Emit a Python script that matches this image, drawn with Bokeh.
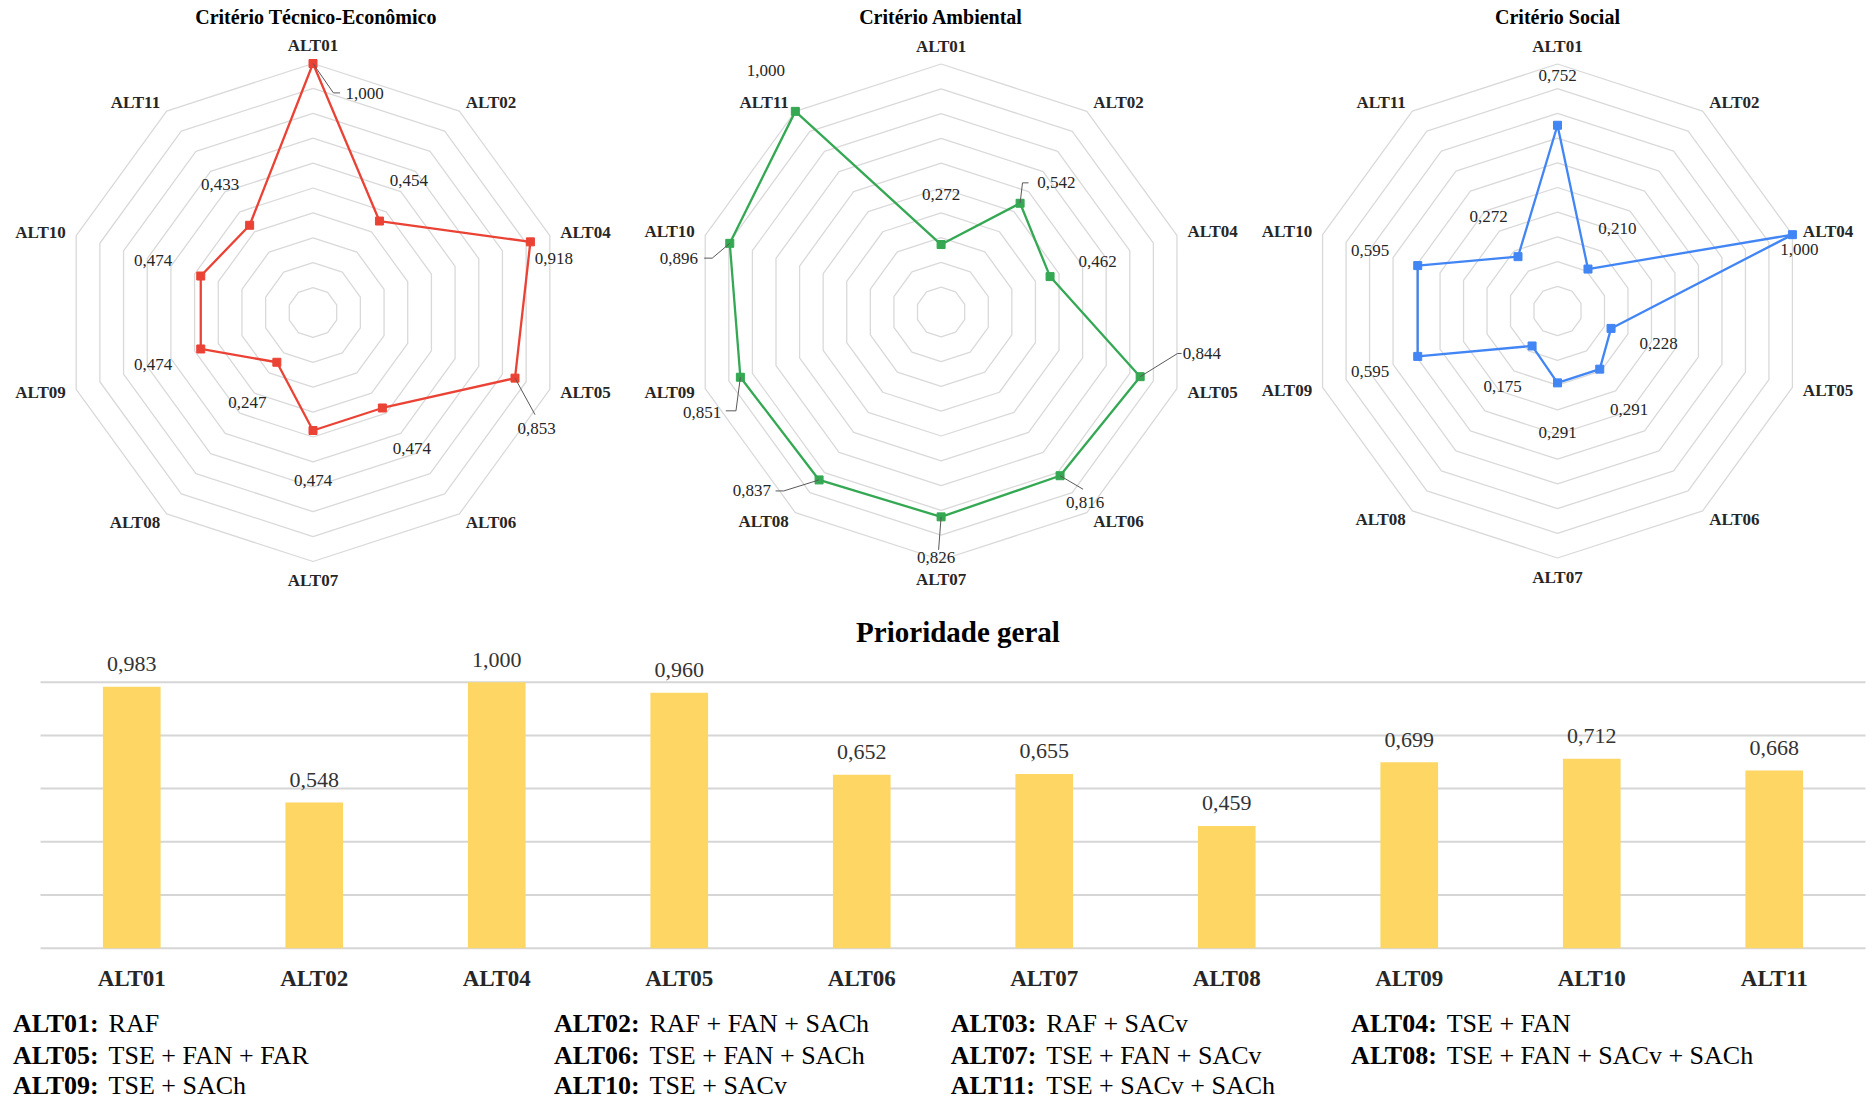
import numpy as np
from bokeh.plotting import figure
from bokeh.layouts import column, row
from bokeh.models import Range1d
from bokeh.embed import file_html
from bokeh.resources import INLINE
from bokeh.core.properties import value

# ---------------- data ----------------
alternatives = ["ALT01", "ALT02", "ALT04", "ALT05", "ALT06",
                "ALT07", "ALT08", "ALT09", "ALT10", "ALT11"]
tecnico = [1.000, 0.454, 0.918, 0.853, 0.474, 0.474, 0.247, 0.474, 0.474, 0.433]
ambiental = [0.272, 0.542, 0.462, 0.844, 0.816, 0.826, 0.837, 0.851, 0.896, 1.000]
social = [0.752, 0.210, 1.000, 0.228, 0.291, 0.291, 0.175, 0.595, 0.595, 0.272]
prioridade = [0.983, 0.548, 1.000, 0.960, 0.652, 0.655, 0.459, 0.699, 0.712, 0.668]
ring_levels = [0.1, 0.2, 0.3, 0.4, 0.5, 0.6, 0.7, 0.8, 0.9, 1.0]
bar_grid_ticks = [0.0, 0.2, 0.4, 0.6, 0.8, 1.0]
legend_codes = ["ALT01", "ALT02", "ALT03", "ALT04", "ALT05", "ALT06",
                "ALT07", "ALT08", "ALT09", "ALT10", "ALT11"]
legend_desc = ["RAF", "RAF + FAN + SACh", "RAF + SACv", "TSE + FAN",
               "TSE + FAN + FAR", "TSE + FAN + SACh", "TSE + FAN + SACv",
               "TSE + FAN + SACv + SACh", "TSE + SACh", "TSE + SACv",
               "TSE + SACv + SACh"]

# ---------------- styles / placement ----------------
SERIF = value("Liberation Serif")
RED, GREEN, BLUE = "#EA4335", "#34A853", "#4285F4"
BAR_COLOR = "#FDD663"
RING_COLOR = "#D9D9D9"
TXT = "#262626"
PAGE_W = 1873
H_RADAR = 605

# moved data labels (pixel offsets from the point, +y down) and their leader lines
custom1 = {0: ((51.7, 29.7), [(0, 0), (20.4, 29.4), (27, 29.4)]),
           2: ((23.5, 16.8), None),
           3: ((21.6, 49.9), [(0, 0), (20, 36.5)])}
custom2 = {1: ((36.3, -20.4), [(0, 0), (2.4, -20.4), (8.4, -20.4)]),
           3: ((61.7, -23.2), [(0, 0), (37.4, -23.2), (41.4, -23.2)]),
           4: ((25, 26.7), [(0, 0), (23, 13.5)]),
           5: ((-5, 40.2), [(0, 0), (-2.5, 33)]),
           6: ((-67.2, 11), [(0, 0), (-35.3, 11), (-43.5, 11)]),
           7: ((-38.3, 35.5), [(0, 0), (-4.4, 33.6), (-14.6, 33.6)]),
           8: ((-50.9, 14.8), [(0, 0), (-17.5, 14.8), (-25.6, 14.8)])}
custom3 = {2: ((7, 15), None)}


def fmt(v):
    return f"{v:.3f}".replace(".", ",")


def radar(title, values, color, W, cx, cy, R, custom, title_dx=0):
    p = figure(width=W, height=H_RADAR, output_backend="svg", toolbar_location=None,
               x_range=Range1d(-cx / R, (W - cx) / R),
               y_range=Range1d(-(H_RADAR - cy) / R, cy / R),
               x_axis_type=None, y_axis_type=None, min_border=0)
    p.outline_line_color = None
    vals = np.array(values)
    n = len(vals)
    th = np.arange(n) * 2 * np.pi / n
    s, c = np.sin(th), np.cos(th)
    # grid rings
    xs = [list(np.append(l * s, l * s[0])) for l in ring_levels]
    ys = [list(np.append(l * c, l * c[0])) for l in ring_levels]
    p.multi_line(xs, ys, line_color=RING_COLOR, line_width=1.3)
    # series
    vx, vy = vals * s, vals * c
    p.line(np.append(vx, vx[0]), np.append(vy, vy[0]), line_color=color, line_width=2.3)
    p.scatter(vx, vy, marker="square", size=8, fill_color=color, line_color=color)
    # category labels
    ra = 1 + 11 / R
    for i, name in enumerate(alternatives):
        if abs(s[i]) < 0.01:
            r_t = 1 + (19 if c[i] < 0 else 18) / R
            p.text([r_t * s[i]], [r_t * c[i]], text=[name], text_align="center",
                   text_baseline="middle", text_font=SERIF, text_font_style="bold",
                   text_font_size="17px", text_color=TXT)
        else:
            p.text([ra * s[i]], [ra * c[i]], text=[name],
                   text_align="left" if s[i] > 0 else "right",
                   text_baseline="middle", text_font=SERIF, text_font_style="bold",
                   text_font_size="17px", text_color=TXT)
    # data labels
    lx, ly, lt = [], [], []
    lead_x, lead_y = [], []
    for i in range(n):
        if i in custom:
            (dx, dy), lead = custom[i]
            if lead:
                lead_x.append([vx[i] + a / R for a, b in lead])
                lead_y.append([vy[i] - b / R for a, b in lead])
        else:
            dx, dy = 50 * s[i], -50 * c[i]
        lx.append(vx[i] + dx / R)
        ly.append(vy[i] - dy / R)
        lt.append(fmt(vals[i]))
    if lead_x:
        p.multi_line(lead_x, lead_y, line_color="#595959", line_width=1)
    p.text(lx, ly, text=lt, text_align="center", text_baseline="middle",
           text_font=SERIF, text_font_size="17px", text_color=TXT)
    # title
    p.text([title_dx / R], [(cy - 16) / R], text=[title], text_align="center",
           text_baseline="middle", text_font=SERIF, text_font_style="bold",
           text_font_size="20px", text_color="#000000")
    return p


r1 = radar("Critério Técnico-Econômico", tecnico, RED, 627, 312.5, 312, 249, custom1, 3)
r2 = radar("Critério Ambiental", ambiental, GREEN, 621, 313.6, 311.5, 248, custom2)
r3 = radar("Critério Social", social, BLUE, PAGE_W - 1248, 309, 310.5, 247, custom3)

# ---------------- bar chart ----------------
BAR_TOP, BAR_BOTTOM = 605, 1002
BAR_H = BAR_BOTTOM - BAR_TOP
PX = 266.0          # pixels per unit of priority
BASE = 947.7        # page y of the zero line
CAT_W = 182.5       # pixels per category
FRAME_L = 40.0      # page x of the first category slot
n_alt = len(alternatives)
xpos = np.arange(n_alt)
pb = figure(width=PAGE_W, height=BAR_H, output_backend="svg", toolbar_location=None,
            x_range=Range1d(-0.5 - FRAME_L / CAT_W, -0.5 + (PAGE_W - FRAME_L) / CAT_W),
            y_range=Range1d(-(BAR_BOTTOM - BASE) / PX, (BASE - BAR_TOP) / PX),
            x_axis_type=None, y_axis_type=None, min_border=0)
pb.outline_line_color = None
pb.segment(x0=[-0.5] * len(bar_grid_ticks), x1=[n_alt - 0.5] * len(bar_grid_ticks),
           y0=bar_grid_ticks, y1=bar_grid_ticks, line_color="#D6D6D6", line_width=2)
pb.vbar(x=xpos, top=prioridade, width=0.316, fill_color=BAR_COLOR, line_color=None)
pb.text(xpos, np.array(prioridade) + 22.7 / PX, text=[fmt(v) for v in prioridade],
        text_align="center", text_baseline="middle", text_font=SERIF,
        text_font_size="22px", text_color="#333333")
pb.text(xpos, [-30.6 / PX] * n_alt, text=alternatives, text_align="center",
        text_baseline="middle", text_font=SERIF, text_font_style="bold",
        text_font_size="23px", text_color=TXT)
pb.text([(n_alt - 1) / 2 + 5 / CAT_W], [(BASE - 631) / PX], text=["Prioridade geral"],
        text_align="center", text_baseline="middle", text_font=SERIF,
        text_font_style="bold", text_font_size="29px", text_color="#000000")

# ---------------- legend (text block) ----------------
LEG_TOP = BAR_BOTTOM
LEG_H = 1099 - LEG_TOP
pl = figure(width=PAGE_W, height=LEG_H, output_backend="svg", toolbar_location=None,
            x_range=Range1d(0, PAGE_W), y_range=Range1d(0, LEG_H),
            x_axis_type=None, y_axis_type=None, min_border=0)
pl.outline_line_color = None
col_x = [12.5, 553.4, 950.2, 1350.6]
row_mid = [1023.0, 1054.5, 1085.0]
kx, ky, kt, dx_, dy_, dt = [], [], [], [], [], []
for k, (code, desc) in enumerate(zip(legend_codes, legend_desc)):
    r_, c_ = divmod(k, 4)
    yy = LEG_TOP + LEG_H - row_mid[r_]
    kx.append(col_x[c_]); ky.append(yy); kt.append(code + ":")
    dx_.append(col_x[c_] + 95.6); dy_.append(yy); dt.append(desc)
pl.text(kx, ky, text=kt, text_align="left", text_baseline="middle",
        text_font=SERIF, text_font_style="bold", text_font_size="26px", text_color="#000000")
pl.text(dx_, dy_, text=dt, text_align="left", text_baseline="middle",
        text_font=SERIF, text_font_size="26px", text_color="#000000")

layout = column(row(r1, r2, r3), pb, pl)
open("out.html", "w").write(file_html(layout, INLINE))
